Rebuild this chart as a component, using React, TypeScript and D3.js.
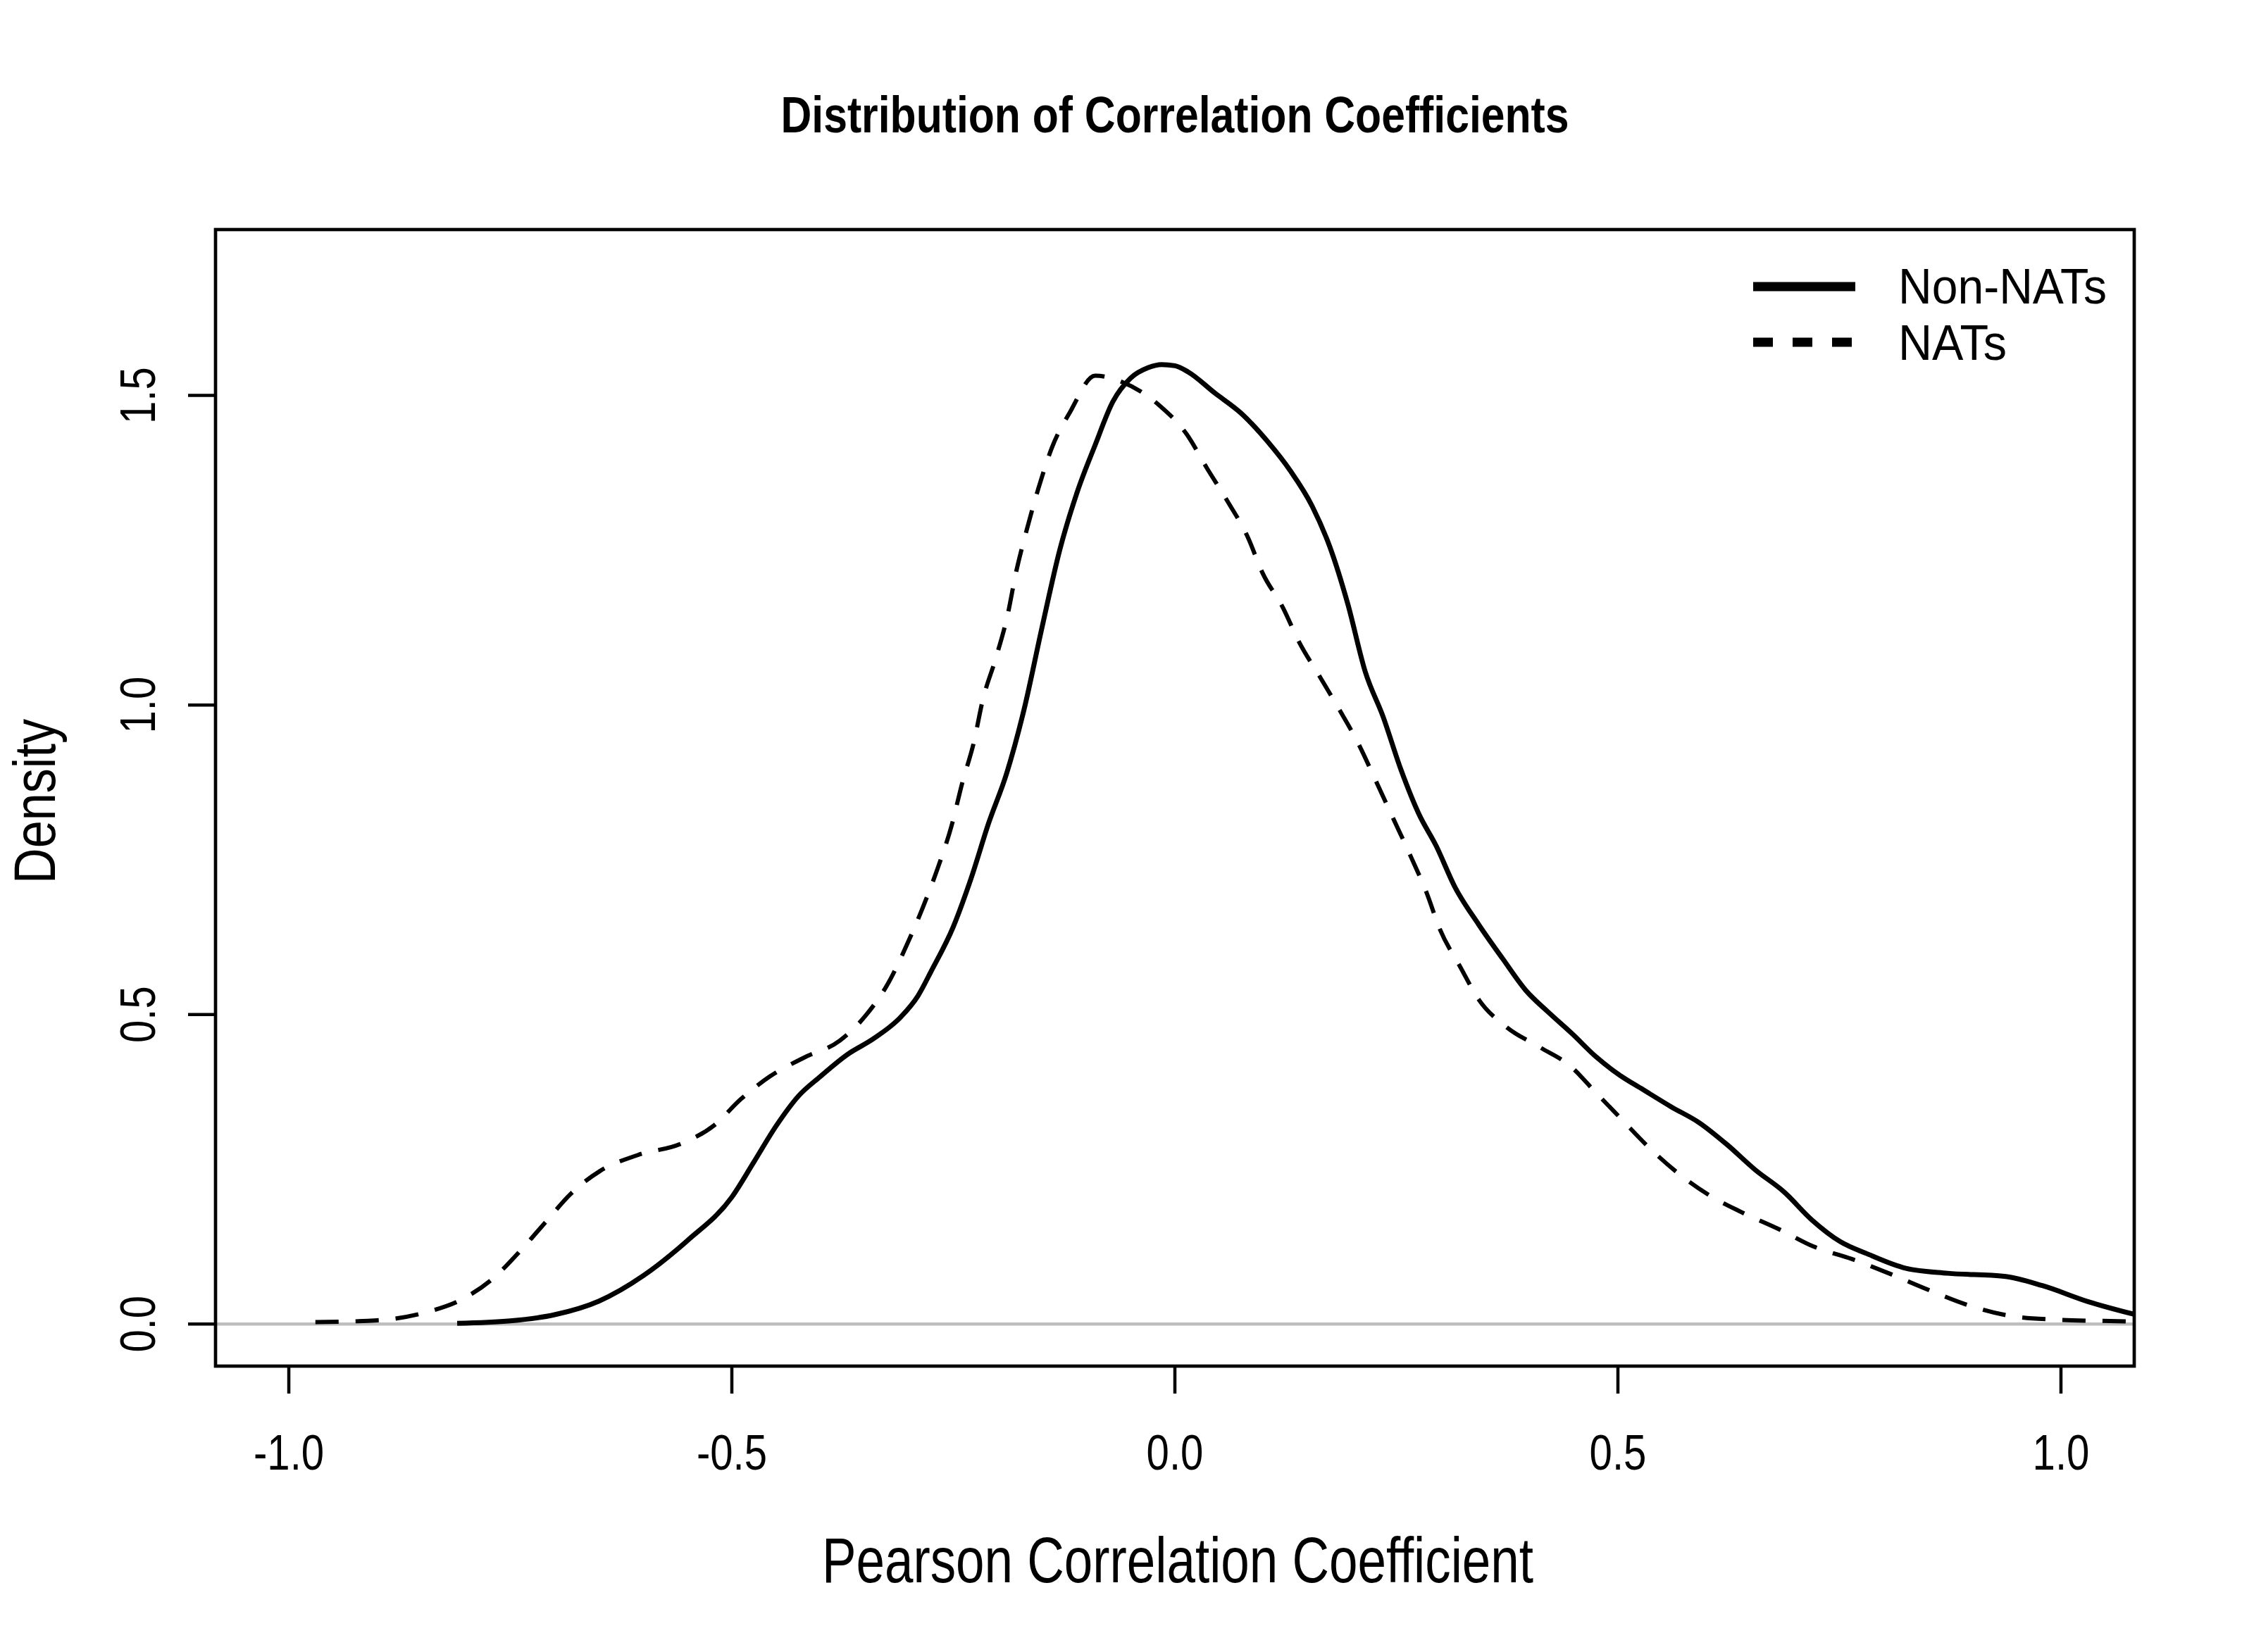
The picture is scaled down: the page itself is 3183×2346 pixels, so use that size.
import React, { useEffect } from 'react';
import * as d3 from 'd3';

// density estimates, [x, density]
const nonNatX = [
  -0.81, -0.75, -0.7, -0.65, -0.6, -0.55, -0.5, -0.475, -0.45, -0.425, -0.4, -0.37, -0.34, -0.31,
  -0.29, -0.275, -0.25, -0.23, -0.21, -0.19, -0.17, -0.15, -0.13, -0.11, -0.09, -0.07, -0.05,
  -0.03, -0.015, 0.0, 0.015, 0.045, 0.075, 0.105, 0.13, 0.155, 0.175, 0.195, 0.215, 0.235, 0.255,
  0.275, 0.295, 0.316, 0.343, 0.37, 0.396, 0.422, 0.449, 0.475, 0.502, 0.528, 0.56, 0.592, 0.623,
  0.655, 0.687, 0.719, 0.751, 0.782, 0.825, 0.872, 0.936, 0.979, 1.031, 1.09,
];
const nonNatY = [
  0.001, 0.005, 0.015, 0.037, 0.078, 0.135, 0.205, 0.262, 0.32, 0.368, 0.4, 0.435, 0.461, 0.495,
  0.53, 0.57, 0.642, 0.72, 0.81, 0.889, 0.994, 1.125, 1.25, 1.345, 1.42, 1.49, 1.528,
  1.545, 1.55, 1.548, 1.538, 1.504, 1.471, 1.425, 1.379, 1.321, 1.255, 1.164, 1.053, 0.981, 0.896,
  0.825, 0.772, 0.706, 0.645, 0.59, 0.539, 0.503, 0.468, 0.432, 0.402, 0.379, 0.351, 0.325, 0.29,
  0.249, 0.214, 0.168, 0.133, 0.113, 0.09, 0.082, 0.077, 0.062, 0.036, 0.013,
];

const natX = [
  -0.97, -0.9, -0.845, -0.803, -0.77, -0.737, -0.71, -0.682, -0.649, -0.606, -0.558, -0.52, -0.49,
  -0.457, -0.419, -0.378, -0.348, -0.323, -0.303, -0.285, -0.267, -0.252, -0.24, -0.227, -0.217,
  -0.202, -0.189, -0.179, -0.167, -0.154, -0.139, -0.118, -0.09, -0.06, -0.0175, 0.013, 0.036,
  0.059, 0.082, 0.099, 0.122, 0.14, 0.163, 0.185, 0.208, 0.226, 0.246, 0.266, 0.284, 0.299, 0.322,
  0.343, 0.374, 0.412, 0.446, 0.475, 0.504, 0.533, 0.565, 0.602, 0.639, 0.682, 0.721, 0.764, 0.809,
  0.849, 0.894, 0.939, 0.994, 1.047, 1.09,
];
const natY = [
  0.003, 0.006, 0.019, 0.041, 0.073, 0.121, 0.165, 0.21, 0.247, 0.273, 0.291, 0.321, 0.363,
  0.4, 0.43, 0.458, 0.5, 0.552, 0.611, 0.671, 0.739, 0.805, 0.874, 0.939, 1.007,
  1.076, 1.144, 1.216, 1.284, 1.35, 1.415, 1.474, 1.532, 1.522, 1.484, 1.438, 1.383,
  1.33, 1.272, 1.213, 1.157, 1.102, 1.047, 0.994, 0.935, 0.88, 0.818, 0.756, 0.697, 0.638, 0.577,
  0.524, 0.48, 0.447, 0.417, 0.374, 0.331, 0.288, 0.247, 0.209, 0.181, 0.153, 0.125, 0.105, 0.08,
  0.056, 0.031, 0.014, 0.007, 0.005, 0.004,
];

const xTicks = [-1.0, -0.5, 0.0, 0.5, 1.0];
const yTicks = [0.0, 0.5, 1.0, 1.5];
const legendLabels = ['Non-NATs', 'NATs'];

const W = 3183;
const H = 2346;
const box = { left: 306, right: 3030, top: 326, bottom: 1940 };
const font = '"Liberation Sans", Arial, sans-serif';

// R style 4% axis extension
const xlim = [-1.0025, 1.0025];
const ylim = [0, 1.7];
const xPad = (xlim[1] - xlim[0]) * 0.04;
const yPad = (ylim[1] - ylim[0]) * 0.04;

export default function App() {
  useEffect(() => {
    document.body.style.margin = '0';
  }, []);

  const x = d3.scaleLinear().domain([xlim[0] - xPad, xlim[1] + xPad]).range([box.left, box.right]);
  const y = d3.scaleLinear().domain([ylim[0] - yPad, ylim[1] + yPad]).range([box.bottom, box.top]);

  const line = d3
    .line<[number, number]>()
    .x((d) => x(d[0]))
    .y((d) => y(d[1]))
    .curve(d3.curveMonotoneX);

  const nonNat = nonNatX.map((v, i) => [v, nonNatY[i]] as [number, number]);
  const nat = natX.map((v, i) => [v, natY[i]] as [number, number]);

  const midX = (box.left + box.right) / 2;
  const midY = (box.top + box.bottom) / 2;

  return (
    <svg
      width={W}
      height={H}
      style={{ position: 'absolute', left: 0, top: 0, background: '#fff' }}
      fontFamily={font}
    >
      <rect width={W} height={H} fill="#fff" />
      <defs>
        <clipPath id="plot">
          <rect x={box.left} y={box.top} width={box.right - box.left} height={box.bottom - box.top} />
        </clipPath>
      </defs>

      {/* title */}
      <text x={midX} y={188} textAnchor="middle" fontSize={72} fontWeight="bold" textLength={1119} lengthAdjust="spacingAndGlyphs">
        Distribution of Correlation Coefficients
      </text>

      {/* zero line */}
      <line x1={box.left} x2={box.right} y1={y(0)} y2={y(0)} stroke="#bebebe" strokeWidth={4.5} />

      <g clipPath="url(#plot)" fill="none" stroke="#000" strokeLinejoin="round">
        <path d={line(nonNat) || ''} strokeWidth={7} />
        <path d={line(nat) || ''} strokeWidth={6} strokeDasharray="33 24" />
      </g>

      {/* frame */}
      <rect
        x={box.left}
        y={box.top}
        width={box.right - box.left}
        height={box.bottom - box.top}
        fill="none"
        stroke="#000"
        strokeWidth={4.7}
      />

      {/* x axis */}
      <g>
        {xTicks.map((t) => (
          <g key={t}>
            <line x1={x(t)} x2={x(t)} y1={box.bottom} y2={box.bottom + 39} stroke="#000" strokeWidth={4.5} />
            <text
              transform={`translate(${x(t)},2087) scale(0.83,1)`}
              textAnchor="middle"
              fontSize={70}
            >
              {t.toFixed(1)}
            </text>
          </g>
        ))}
      </g>

      {/* y axis */}
      <g>
        {yTicks.map((t) => (
          <g key={t}>
            <line x1={box.left - 39} x2={box.left} y1={y(t)} y2={y(t)} stroke="#000" strokeWidth={4.5} />
            <text
              transform={`translate(220,${y(t)}) rotate(-90) scale(0.83,1)`}
              textAnchor="middle"
              fontSize={70}
            >
              {t.toFixed(1)}
            </text>
          </g>
        ))}
      </g>

      {/* axis titles */}
      <text x={1672} y={2247} textAnchor="middle" fontSize={90} textLength={1010} lengthAdjust="spacingAndGlyphs">
        Pearson Correlation Coefficient
      </text>
      <text
        transform={`translate(78,${midY + 5}) rotate(-90)`}
        textAnchor="middle"
        fontSize={84}
        textLength={234}
        lengthAdjust="spacingAndGlyphs"
      >
        Density
      </text>

      {/* legend */}
      <g>
        <line x1={2489} x2={2634} y1={407} y2={407} stroke="#000" strokeWidth={13} />
        <line x1={2489} x2={2634} y1={486} y2={486} stroke="#000" strokeWidth={13} strokeDasharray="28 28" />
        <text x={2695} y={431} fontSize={70} textLength={296} lengthAdjust="spacingAndGlyphs">
          {legendLabels[0]}
        </text>
        <text x={2695} y={511} fontSize={70} textLength={154} lengthAdjust="spacingAndGlyphs">
          {legendLabels[1]}
        </text>
      </g>
    </svg>
  );
}
